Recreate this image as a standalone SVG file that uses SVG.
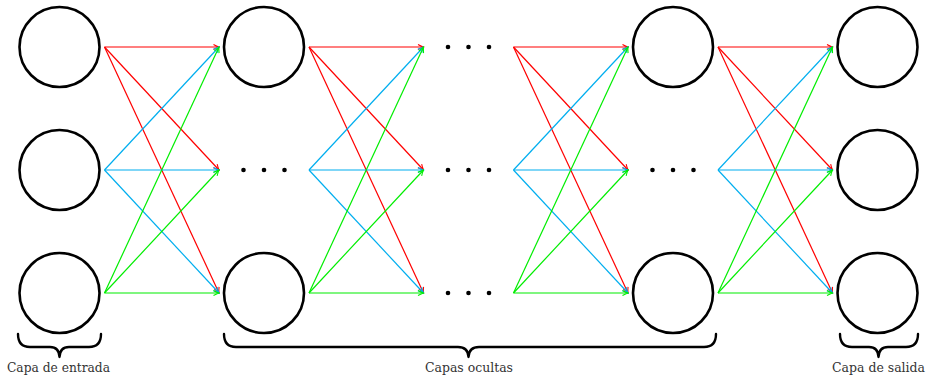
<svg xmlns="http://www.w3.org/2000/svg" width="930" height="378" viewBox="0 0 930 378">
<style>
.node{fill:none;stroke:#000;stroke-width:2.6}
.dot{fill:#000}
.r{stroke:#FF0000;stroke-width:1.2;fill:none;marker-end:url(#ar)}
.c{stroke:#00AEEF;stroke-width:1.2;fill:none;marker-end:url(#ac)}
.g{stroke:#00EE00;stroke-width:1.2;fill:none;marker-end:url(#ag)}
.brace{fill:none;stroke:#000;stroke-width:2.4;stroke-linecap:round;stroke-linejoin:round}
.lbl{font-family:'DejaVu Serif','Liberation Serif',serif;font-size:12.5px;fill:#333;text-anchor:middle}
</style>
<defs>
<marker id="ar" markerUnits="userSpaceOnUse" viewBox="-7 -4 8 8" refX="0" refY="0" markerWidth="8" markerHeight="8" orient="auto"><path d="M-5.5,-2.6 Q-2,-0.6 0,0 Q-2,0.6 -5.5,2.6" fill="none" stroke="#FF0000" stroke-width="1.1"/></marker>
<marker id="ac" markerUnits="userSpaceOnUse" viewBox="-7 -4 8 8" refX="0" refY="0" markerWidth="8" markerHeight="8" orient="auto"><path d="M-5.5,-2.6 Q-2,-0.6 0,0 Q-2,0.6 -5.5,2.6" fill="none" stroke="#00AEEF" stroke-width="1.1"/></marker>
<marker id="ag" markerUnits="userSpaceOnUse" viewBox="-7 -4 8 8" refX="0" refY="0" markerWidth="8" markerHeight="8" orient="auto"><path d="M-5.5,-2.6 Q-2,-0.6 0,0 Q-2,0.6 -5.5,2.6" fill="none" stroke="#00EE00" stroke-width="1.1"/></marker>
</defs>
<g id="connectors">
<line class="r" x1="104.5" y1="47" x2="219" y2="47"/><line class="r" x1="104.5" y1="47" x2="219" y2="170"/><line class="r" x1="104.5" y1="47" x2="219" y2="293"/>
<line class="c" x1="104.5" y1="170" x2="219" y2="47"/><line class="c" x1="104.5" y1="170" x2="219" y2="170"/><line class="c" x1="104.5" y1="170" x2="219" y2="293"/>
<line class="g" x1="104.5" y1="293" x2="219" y2="47"/><line class="g" x1="104.5" y1="293" x2="219" y2="170"/><line class="g" x1="104.5" y1="293" x2="219" y2="293"/>
<line class="r" x1="309" y1="47" x2="423.5" y2="47"/><line class="r" x1="309" y1="47" x2="423.5" y2="170"/><line class="r" x1="309" y1="47" x2="423.5" y2="293"/>
<line class="c" x1="309" y1="170" x2="423.5" y2="47"/><line class="c" x1="309" y1="170" x2="423.5" y2="170"/><line class="c" x1="309" y1="170" x2="423.5" y2="293"/>
<line class="g" x1="309" y1="293" x2="423.5" y2="47"/><line class="g" x1="309" y1="293" x2="423.5" y2="170"/><line class="g" x1="309" y1="293" x2="423.5" y2="293"/>
<line class="r" x1="513.5" y1="47" x2="628" y2="47"/><line class="r" x1="513.5" y1="47" x2="628" y2="170"/><line class="r" x1="513.5" y1="47" x2="628" y2="293"/>
<line class="c" x1="513.5" y1="170" x2="628" y2="47"/><line class="c" x1="513.5" y1="170" x2="628" y2="170"/><line class="c" x1="513.5" y1="170" x2="628" y2="293"/>
<line class="g" x1="513.5" y1="293" x2="628" y2="47"/><line class="g" x1="513.5" y1="293" x2="628" y2="170"/><line class="g" x1="513.5" y1="293" x2="628" y2="293"/>
<line class="r" x1="718" y1="47" x2="832.5" y2="47"/><line class="r" x1="718" y1="47" x2="832.5" y2="170"/><line class="r" x1="718" y1="47" x2="832.5" y2="293"/>
<line class="c" x1="718" y1="170" x2="832.5" y2="47"/><line class="c" x1="718" y1="170" x2="832.5" y2="170"/><line class="c" x1="718" y1="170" x2="832.5" y2="293"/>
<line class="g" x1="718" y1="293" x2="832.5" y2="47"/><line class="g" x1="718" y1="293" x2="832.5" y2="170"/><line class="g" x1="718" y1="293" x2="832.5" y2="293"/>
</g>
<g id="in1"><circle class="node" cx="59.5" cy="47" r="40"/></g>
<g id="in2"><circle class="node" cx="59.5" cy="170" r="40"/></g>
<g id="in3"><circle class="node" cx="59.5" cy="293" r="40"/></g>
<g id="h1a"><circle class="node" cx="264" cy="47" r="40"/></g>
<g id="h1b"><circle class="dot" cx="243.5" cy="170" r="2.3"/><circle class="dot" cx="264" cy="170" r="2.3"/><circle class="dot" cx="284.5" cy="170" r="2.3"/></g>
<g id="h1c"><circle class="node" cx="264" cy="293" r="40"/></g>
<g id="h2a"><circle class="dot" cx="448" cy="47" r="2.3"/><circle class="dot" cx="468.5" cy="47" r="2.3"/><circle class="dot" cx="489" cy="47" r="2.3"/></g>
<g id="h2b"><circle class="dot" cx="448" cy="170" r="2.3"/><circle class="dot" cx="468.5" cy="170" r="2.3"/><circle class="dot" cx="489" cy="170" r="2.3"/></g>
<g id="h2c"><circle class="dot" cx="448" cy="293" r="2.3"/><circle class="dot" cx="468.5" cy="293" r="2.3"/><circle class="dot" cx="489" cy="293" r="2.3"/></g>
<g id="h3a"><circle class="node" cx="673" cy="47" r="40"/></g>
<g id="h3b"><circle class="dot" cx="652.5" cy="170" r="2.3"/><circle class="dot" cx="673" cy="170" r="2.3"/><circle class="dot" cx="693.5" cy="170" r="2.3"/></g>
<g id="h3c"><circle class="node" cx="673" cy="293" r="40"/></g>
<g id="out1"><circle class="node" cx="877.5" cy="47" r="40"/></g>
<g id="out2"><circle class="node" cx="877.5" cy="170" r="40"/></g>
<g id="out3"><circle class="node" cx="877.5" cy="293" r="40"/></g>
<g id="brace-in">
<path class="brace" d="M18,334 Q18,347 30,347 L50,347 Q59,347 59.5,357 Q60,347 69,347 L89,347 Q101,347 101,334"/>
<text class="lbl" x="58.5" y="372" textLength="103" lengthAdjust="spacingAndGlyphs">Capa de entrada</text>
</g>
<g id="brace-hidden">
<path class="brace" d="M224,334 Q224,347 236,347 L458,347 Q468,347 468.5,357 Q469,347 479,347 L704,347 Q716,347 716,334"/>
<text class="lbl" x="469" y="372" textLength="88" lengthAdjust="spacingAndGlyphs">Capas ocultas</text>
</g>
<g id="brace-out">
<path class="brace" d="M840,334 Q840,347 852,347 L869,347 Q878,347 878.5,357 Q879,347 888,347 L906,347 Q918,347 918,334"/>
<text class="lbl" x="878.5" y="372" textLength="93" lengthAdjust="spacingAndGlyphs">Capa de salida</text>
</g>
</svg>
